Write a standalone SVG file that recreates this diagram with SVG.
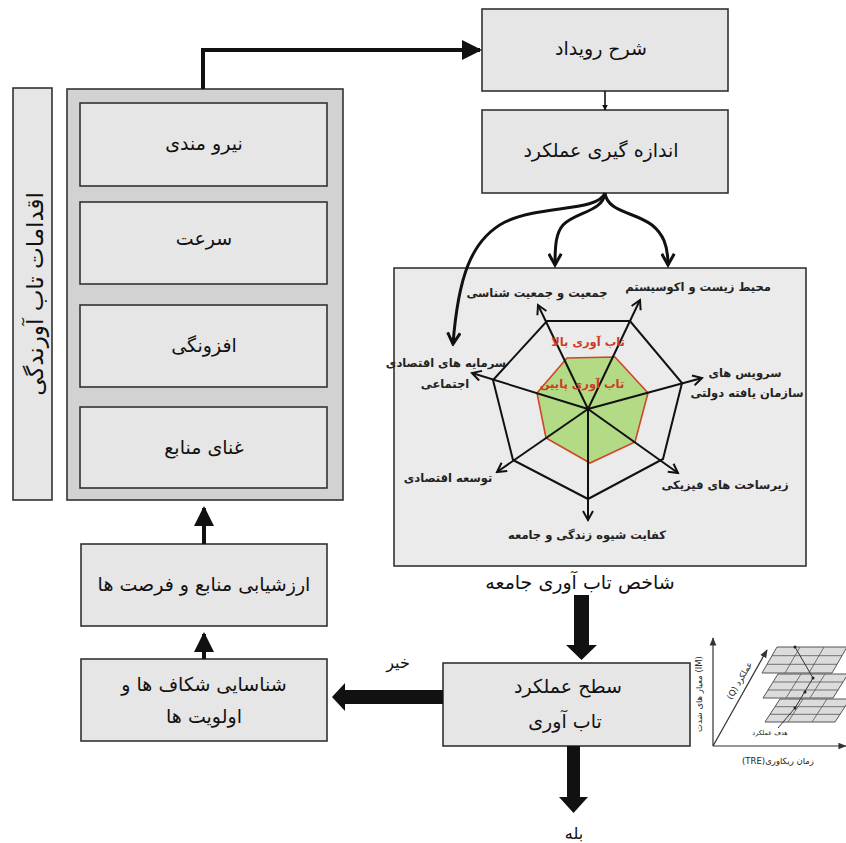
<svg xmlns="http://www.w3.org/2000/svg" width="846" height="843" viewBox="0 0 846 843">
<defs>
<style>
.box{fill:#e6e6e6;stroke:#333;stroke-width:1.6}
.t{font-family:"DejaVu Sans",sans-serif;font-size:19px;fill:#111;text-anchor:middle}
.lbl{font-family:"DejaVu Sans",sans-serif;font-size:11.5px;font-weight:bold;fill:#222;text-anchor:middle}
.red{font-family:"DejaVu Sans",sans-serif;font-size:11.5px;font-weight:bold;fill:#d03a2a;text-anchor:middle}
.sm{font-family:"DejaVu Sans",sans-serif;font-size:8.5px;fill:#222;text-anchor:middle}
.ln{fill:none;stroke:#111;stroke-width:2}
.cv{fill:none;stroke:#111;stroke-width:3}
.plane{fill:#dcdcdc;stroke:#555;stroke-width:1}
.grid{fill:none;stroke:#555;stroke-width:0.8}
</style>
<marker id="tri" viewBox="0 0 10 10" refX="9" refY="5" markerWidth="5" markerHeight="5" orient="auto" markerUnits="strokeWidth">
<path d="M0,0 L10,5 L0,10 z" fill="#111"/>
</marker>
<marker id="tri2" viewBox="0 0 10 10" refX="9" refY="5" markerWidth="6" markerHeight="6" orient="auto" markerUnits="userSpaceOnUse">
<path d="M0,0 L10,5 L0,10 z" fill="#111"/>
</marker>
<marker id="vee" viewBox="0 0 12 12" refX="10" refY="6" markerWidth="5" markerHeight="5" orient="auto" markerUnits="strokeWidth">
<path d="M1,1 L10,6 L1,11" fill="none" stroke="#111" stroke-width="2.4"/>
</marker>
<marker id="vees" viewBox="0 0 12 12" refX="10" refY="6" markerWidth="6" markerHeight="6" orient="auto" markerUnits="strokeWidth">
<path d="M1,1 L10,6 L1,11" fill="none" stroke="#111" stroke-width="2"/>
</marker>
<marker id="tiny" viewBox="0 0 10 10" refX="9" refY="5" markerWidth="7" markerHeight="7" orient="auto" markerUnits="strokeWidth">
<path d="M0,1 L10,5 L0,9 z" fill="#333"/>
</marker>
</defs>
<rect width="846" height="843" fill="#fff"/>

<g id="side-title">
<rect x="13" y="88" width="39" height="412" class="box"/>
<text class="t" style="font-size:23px" transform="translate(43,294) rotate(-90)">اقدامات تاب آورندگی</text>
</g>

<g id="actions">
<rect x="67" y="89" width="276" height="411" fill="#d2d2d2" stroke="#333" stroke-width="1.6"/>
<g id="n1"><rect x="80" y="103" width="247" height="83" class="box"/><text class="t" x="204" y="150">نیرو مندی</text></g>
<g id="n2"><rect x="80" y="202" width="247" height="82" class="box"/><text class="t" x="204" y="245">سرعت</text></g>
<g id="n3"><rect x="80" y="305" width="247" height="82" class="box"/><text class="t" x="204" y="352">افزونگی</text></g>
<g id="n4"><rect x="80" y="407" width="247" height="81" class="box"/><text class="t" x="204" y="454">غنای منابع</text></g>
</g>

<g id="event"><rect x="482" y="9" width="246" height="82" class="box"/><text class="t" x="601" y="55">شرح رویداد</text></g>
<g id="measure"><rect x="482" y="110" width="246" height="83" class="box"/><text class="t" x="601" y="157">اندازه گیری عملکرد</text></g>

<g id="assess"><rect x="81" y="544" width="246" height="82" class="box"/><text class="t" x="204" y="591">ارزشیابی منابع و فرصت ها</text></g>
<g id="gaps"><rect x="81" y="659" width="246" height="82" class="box"/><text class="t" x="204" y="691">شناسایی شکاف ها و</text><text class="t" x="204" y="723">اولویت ها</text></g>
<g id="level"><rect x="443" y="663" width="247" height="83" class="box"/><text class="t" x="568" y="693">سطح عملکرد</text><text class="t" x="565" y="728">تاب آوری</text></g>

<g id="radar">
<rect x="394" y="268" width="412" height="298" fill="#ebebeb" stroke="#333" stroke-width="1.6"/>
<polygon points="547,321 630,321 682,383 663,459 588,499 513,460 493,380" fill="none" stroke="#111" stroke-width="2"/>
<polygon points="567,358 615,357 648,393 635,442 590,463 546,438 537,393" fill="#b3da84" stroke="#d0452a" stroke-width="1.6"/>
<g class="ln">
<line x1="588" y1="409" x2="538" y2="305" marker-end="url(#vees)"/>
<line x1="588" y1="409" x2="640" y2="300" marker-end="url(#vees)"/>
<line x1="588" y1="409" x2="702" y2="378" marker-end="url(#vees)"/>
<line x1="588" y1="409" x2="678" y2="473" marker-end="url(#vees)"/>
<line x1="588" y1="409" x2="588" y2="520" marker-end="url(#vees)"/>
<line x1="588" y1="409" x2="497" y2="472" marker-end="url(#vees)"/>
<line x1="588" y1="409" x2="472" y2="373" marker-end="url(#vees)"/>
</g>
<circle cx="588" cy="409" r="2" fill="#111"/>
<text class="red" x="588" y="346">تاب آوری بالا</text>
<text class="red" x="582" y="388">تاب آوری پایین</text>
<text class="lbl" x="698" y="291">محیط زیست و اکوسیستم</text>
<text class="lbl" x="537" y="297">جمعیت و جمعیت شناسی</text>
<text class="lbl" x="446" y="367">سرمایه های اقتصادی</text>
<text class="lbl" x="445" y="388">اجتماعی</text>
<text class="lbl" x="745" y="377">سرویس های</text>
<text class="lbl" x="747" y="397">سازمان یافته دولتی</text>
<text class="lbl" x="725" y="489">زیرساخت های فیزیکی</text>
<text class="lbl" x="448" y="482">توسعه اقتصادی</text>
<text class="lbl" x="587" y="539">کفایت شیوه زندگی و جامعه</text>
</g>
<text class="t" x="580" y="589">شاخص تاب آوری جامعه</text>

<g id="inset">
<line x1="713" y1="746" x2="713" y2="638" stroke="#333" stroke-width="1.2" marker-end="url(#tiny)"/>
<line x1="713" y1="746" x2="846" y2="746" stroke="#333" stroke-width="1.2" marker-end="url(#tiny)"/>
<line x1="713" y1="746" x2="767" y2="650" stroke="#333" stroke-width="1.2" marker-end="url(#tiny)"/>
<g id="p3"><polygon class="plane" points="765,722 835,722 850,699 780,699"/>
<path class="grid" d="M770,714.3 L840,714.3 M775,706.7 L845,706.7 M788,722 L803,699 M812,722 L827,699"/></g>
<g id="p2"><polygon class="plane" points="763,698 833,698 848,674 778,674"/>
<path class="grid" d="M768,690 L838,690 M773,682 L843,682 M786,698 L801,674 M810,698 L825,674"/></g>
<g id="p1"><polygon class="plane" points="762,673 832,673 847,647 777,647"/>
<path class="grid" d="M767,664.3 L837,664.3 M772,655.7 L842,655.7 M785,673 L800,647 M809,673 L824,647"/></g>
<polyline points="795,647 813,678 795,708 778,728" fill="none" stroke="#333" stroke-width="1"/>
<circle cx="795" cy="647" r="1.5" fill="#222"/><circle cx="813" cy="678" r="1.5" fill="#222"/><circle cx="805" cy="692" r="1.5" fill="#222"/><circle cx="795" cy="708" r="1.5" fill="#222"/>
<text class="sm" style="font-size:6.5px" x="770" y="735">هدف عملکرد</text>
<text class="sm" x="778" y="764">(TRE)زمان ریکاوری</text>
<text class="sm" transform="translate(702,694) rotate(-90)">معیار های شدت (IM)</text>
<text class="sm" transform="translate(742,682) rotate(-60)">(Q) عملکرد</text>
</g>

<g id="connectors">
<polyline points="203,89 203,50 480,50" fill="none" stroke="#111" stroke-width="4" marker-end="url(#tri)"/>
<line x1="605" y1="91" x2="605" y2="110" stroke="#111" stroke-width="1.6" marker-end="url(#tri2)"/>
<path class="cv" d="M605,193 C598,212 540,205 505,222 C470,240 458,280 453,344" marker-end="url(#vee)"/>
<path class="cv" d="M605,193 C603,212 575,212 563,225 C556,233 555,245 555,265" marker-end="url(#vee)"/>
<path class="cv" d="M605,193 C607,212 635,212 652,225 C663,234 668,245 668,265" marker-end="url(#vee)"/>
<polygon points="574,595 589,595 589,645 597,645 581.5,660 566,645 574,645" fill="#111"/>
<polygon points="567,746 580,746 580,797 588,797 573.5,813 559,797 567,797" fill="#111"/>
<polygon points="443,690 345,690 345,683 332,697 345,711 345,704 443,704" fill="#111"/>
<polyline points="204,659 204,634" fill="none" stroke="#111" stroke-width="4" marker-end="url(#tri)"/>
<polyline points="204,544 204,508" fill="none" stroke="#111" stroke-width="4" marker-end="url(#tri)"/>
<text class="t" style="font-size:16px" x="398" y="668">خیر</text>
<text class="t" style="font-size:16px" x="574" y="839">بله</text>
</g>
</svg>
